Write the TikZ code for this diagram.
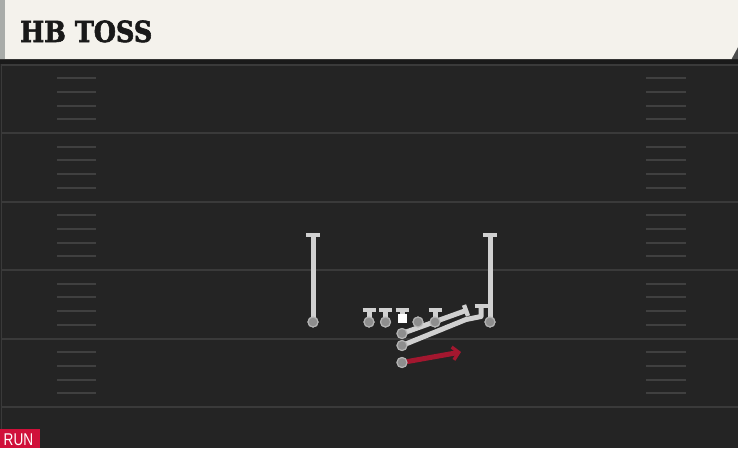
\documentclass[tikz,border=0pt]{standalone}
\usepackage{fontspec}
\usetikzlibrary{arrows.meta,calc}
\newfontfamily\titlefont[FakeBold=2.2]{DejaVu Serif}
\newfontfamily\runfont{Liberation Sans}
\definecolor{field}{HTML}{242424}
\definecolor{band}{HTML}{1A1A1A}
\definecolor{yard}{HTML}{3A3A3A}
\definecolor{hash}{HTML}{404040}
\definecolor{header}{HTML}{F4F2EC}
\definecolor{strip}{HTML}{A9ACA9}
\definecolor{routegray}{HTML}{D0D0D0}
\definecolor{dotgray}{HTML}{8E8E8E}
\definecolor{dotring}{HTML}{B4B4B4}
\definecolor{runred}{HTML}{A3172F}
\definecolor{tagred}{HTML}{D0103A}
\begin{document}
\begin{tikzpicture}[x=1pt,y=-1pt,
  route/.style={draw=routegray,line width=5pt},
  tbar/.style={draw=routegray,line width=4.4pt},
  player/.style={circle,fill=dotgray,draw=dotring,line width=1.1pt,minimum size=10pt,inner sep=0pt},
  ballsq/.style={rectangle,fill=white,minimum size=9pt,inner sep=0pt},
  yardline/.style={draw=yard,line width=2pt},
  hashmark/.style={draw=hash,line width=2pt},
  runroute/.style={draw=runred,line width=5pt,-{Straight Barb[length=6pt,width=13pt,line width=3.4pt]}}]
\useasboundingbox (0,0) rectangle (738,448);
% field
\fill[field] (0,0) rectangle (738,448);
\fill[band] (0,59) rectangle (738,64);
\draw[draw=yard,line width=1pt] (1.5,64) -- (1.5,448);
% yard lines and hash marks
\foreach \i in {0,...,5}{
  \draw[yardline] (2,64.5+68.5*\i) -- (738,64.5+68.5*\i);
}
\foreach \i in {0,...,4}{
  \foreach \k in {1,...,4}{
    \draw[hashmark] (57,64.5+68.5*\i+13.7*\k) -- (96,64.5+68.5*\i+13.7*\k);
    \draw[hashmark] (646,64.5+68.5*\i+13.7*\k) -- (686,64.5+68.5*\i+13.7*\k);
  }
}
% header
\fill[gray!60!black] (731,59) -- (738,47) -- (738,59) -- cycle;
\fill[header] (0,0) -- (738,0) -- (738,47) -- (731.5,59) -- (0,59) -- cycle;
\fill[strip] (0,0) rectangle (4.5,59);
\node[anchor=base west,inner sep=0pt,text=black!90] (title) at (20,42)
  {\titlefont\bfseries\fontsize{29}{29}\selectfont\scalebox{0.88}[1]{HB TOSS}};
% run tag
\fill[tagred] (0,428.5) rectangle (40,448);
\node[anchor=base west,inner sep=0pt,text=white] (runtag) at (3.5,445.5)
  {\runfont\fontsize{17}{17}\selectfont\scalebox{0.8}[1]{RUN}};
% receivers
\node[player] (wrl) at (313,322) {};
\node[player] (wrr) at (490,322) {};
\coordinate (wrlt) at (313,235);
\coordinate (wrrt) at (490,235);
% linemen
\node[player] (lt) at (369,322) {};
\node[player] (lg) at (385.5,322) {};
\node[ballsq] (c) at (402,318.5) {};
\node[player] (rg) at (418,322) {};
\node[player] (rt) at (435,322) {};
\coordinate (ltt) at (369,310);
\coordinate (lgt) at (385.5,310);
\coordinate (ct) at (402,310);
\coordinate (rtt) at (435,310);
% backs
\node[player] (b1) at (402,333.5) {};
\node[player] (b2) at (402,345.5) {};
\node[player] (hb) at (402,362.5) {};
\coordinate (b1e) at (466,310.5);
\coordinate (b2m) at (466,319.5);
\coordinate (b2n) at (481,316.5);
\coordinate (b2e) at (481,306);
\coordinate (hbe) at (461,352);
% stems and blocks
\draw[route] (wrl.center) -- (wrlt);
\draw[tbar] ([xshift=-7pt]wrlt) -- ([xshift=7pt]wrlt);
\draw[route] (wrr.center) -- (wrrt);
\draw[tbar] ([xshift=-7pt]wrrt) -- ([xshift=7pt]wrrt);
\foreach \p/\t in {lt/ltt,lg/lgt,c/ct,rt/rtt}{
  \draw[route] (\p.center) -- (\t);
  \draw[tbar] ([xshift=-6.5pt]\t) -- ([xshift=6.5pt]\t);
}
\draw[route,line join=round] (b2.center) -- (b2m) -- (b2n) -- (b2e);
\draw[tbar] ([xshift=-6.5pt]b2e) -- ([xshift=6.5pt]b2e);
\draw[route] (b1.center) -- (b1e);
\draw[tbar] ($(b1e)+(-2,-5.5)$) -- ($(b1e)+(2,5.5)$);
\draw[runroute] (hb.center) -- (hbe);
% redraw dots on top
\foreach \p in {wrl,wrr,lt,lg,rg,rt,b1,b2,hb}{
  \node[player] at (\p) {};
}
\node[ballsq] at (c) {};
\end{tikzpicture}
\end{document}
